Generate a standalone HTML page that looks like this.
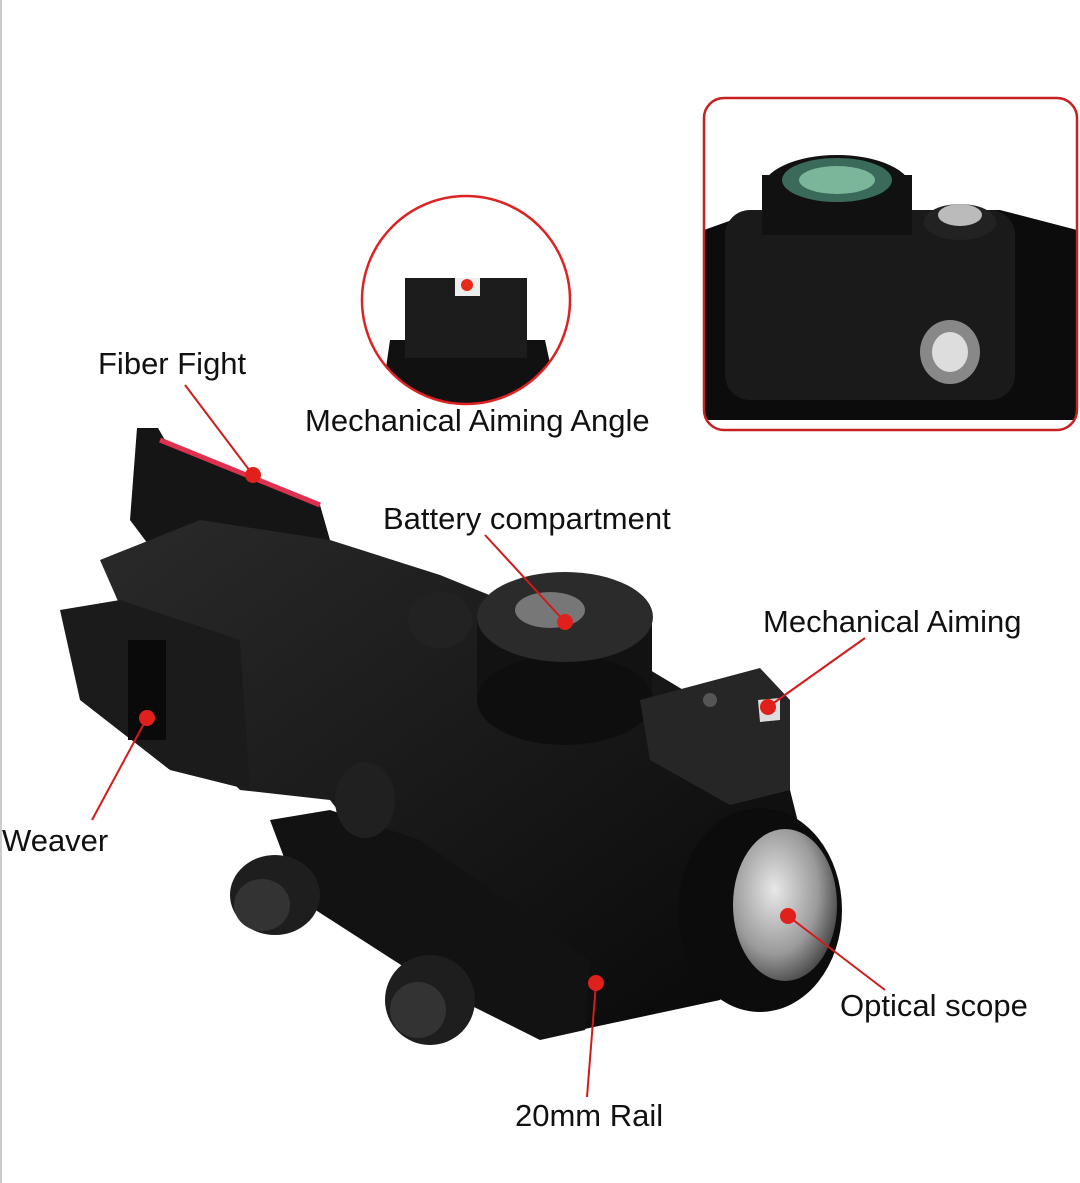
<!DOCTYPE html>
<html><head><meta charset="utf-8"><style>
html,body{margin:0;padding:0;background:#fff;}
body{width:1080px;height:1183px;overflow:hidden;position:relative;font-family:"Liberation Sans",sans-serif;}
.l{position:absolute;font-size:31px;color:#111;white-space:nowrap;line-height:1;}
svg{position:absolute;left:0;top:0;}
</style></head><body>
<svg width="1080" height="1183" viewBox="0 0 1080 1183">
<defs>
<radialGradient id="lens" cx="0.4" cy="0.4" r="0.7"><stop offset="0" stop-color="#e8e8e8"/><stop offset="0.6" stop-color="#9a9a9a"/><stop offset="1" stop-color="#333"/></radialGradient>
<linearGradient id="body" x1="0" y1="0" x2="1" y2="1"><stop offset="0" stop-color="#2a2a2a"/><stop offset="1" stop-color="#080808"/></linearGradient>
<clipPath id="cc"><circle cx="466" cy="300" r="104"/></clipPath>
<clipPath id="rc"><rect x="704" y="98" width="373" height="332" rx="20"/></clipPath>
</defs>
<line x1="1" y1="0" x2="1" y2="1183" stroke="#ccc" stroke-width="2"/>
<g clip-path="url(#cc)">
<rect x="360" y="195" width="212" height="212" fill="#fff"/>
<polygon points="390,340 545,340 560,410 380,410" fill="#111"/>
<rect x="405" y="278" width="122" height="80" fill="#1c1c1c"/>
<rect x="455" y="278" width="25" height="18" fill="#eee"/>
<circle cx="467" cy="285" r="6" fill="#e52a1a"/>
</g>
<circle cx="466" cy="300" r="104" fill="none" stroke="#d22" stroke-width="2.5"/>
<g clip-path="url(#rc)">
<rect x="704" y="98" width="373" height="332" fill="#fff"/>
<polygon points="704,230 760,210 1000,210 1077,230 1077,420 704,420" fill="#0c0c0c"/>
<rect x="725" y="210" width="290" height="190" rx="25" fill="#1a1a1a"/>
<ellipse cx="837" cy="190" rx="75" ry="35" fill="#111"/>
<rect x="762" y="175" width="150" height="60" fill="#111"/>
<ellipse cx="837" cy="180" rx="55" ry="22" fill="#3a6a5a"/>
<ellipse cx="837" cy="180" rx="38" ry="14" fill="#7bb59a"/>
<ellipse cx="960" cy="222" rx="36" ry="18" fill="#222"/>
<ellipse cx="960" cy="215" rx="22" ry="11" fill="#bbb"/>
<ellipse cx="950" cy="352" rx="30" ry="32" fill="#888"/>
<ellipse cx="950" cy="352" rx="18" ry="20" fill="#ddd"/>
</g>
<rect x="704" y="98" width="373" height="332" rx="20" fill="none" stroke="#c82020" stroke-width="2.5"/>
<polygon points="137,428 158,428 165,440 300,495 320,505 330,540 250,600 160,560 130,520" fill="#151515"/>
<line x1="160" y1="440" x2="320" y2="505" stroke="#e03050" stroke-width="5"/>
<polygon points="100,560 200,520 330,540 440,575 600,640 700,700 790,790 800,830 720,1000 580,1030 430,930 330,800 240,790 170,720" fill="url(#body)"/>
<polygon points="60,610 120,600 240,640 250,790 170,770 80,700" fill="#1b1b1b"/>
<rect x="128" y="640" width="38" height="100" fill="#0a0a0a"/>
<ellipse cx="440" cy="620" rx="32" ry="28" fill="#222"/>
<rect x="477" y="615" width="175" height="85" fill="#121212"/>
<ellipse cx="565" cy="700" rx="88" ry="45" fill="#0e0e0e"/>
<ellipse cx="565" cy="617" rx="88" ry="45" fill="#2b2b2b"/>
<ellipse cx="550" cy="610" rx="35" ry="18" fill="#777"/>
<polygon points="640,700 760,668 790,700 790,790 730,805 650,760" fill="#262626"/>
<polygon points="758,700 780,698 780,720 760,722" fill="#ddd"/>
<circle cx="710" cy="700" r="7" fill="#555"/>
<ellipse cx="760" cy="910" rx="82" ry="102" fill="#0c0c0c"/>
<ellipse cx="785" cy="905" rx="52" ry="76" fill="url(#lens)"/>
<polygon points="270,820 330,810 420,840 590,960 585,1030 540,1040 440,990 300,900" fill="#121212"/>
<ellipse cx="275" cy="895" rx="45" ry="40" fill="#1e1e1e"/>
<ellipse cx="262" cy="905" rx="28" ry="26" fill="#333"/>
<ellipse cx="430" cy="1000" rx="45" ry="45" fill="#1e1e1e"/>
<ellipse cx="418" cy="1010" rx="28" ry="28" fill="#333"/>
<ellipse cx="365" cy="800" rx="30" ry="38" fill="#202020"/>
<g stroke="#d21b1b" stroke-width="2" fill="#e0201a">
<line x1="185" y1="385" x2="253" y2="475"/><circle cx="253" cy="475" r="8" stroke="none"/>
<line x1="485" y1="535" x2="565" y2="622"/><circle cx="565" cy="622" r="8" stroke="none"/>
<line x1="865" y1="638" x2="768" y2="707"/><circle cx="768" cy="707" r="8" stroke="none"/>
<line x1="92" y1="820" x2="147" y2="718"/><circle cx="147" cy="718" r="8" stroke="none"/>
<line x1="885" y1="990" x2="788" y2="916"/><circle cx="788" cy="916" r="8" stroke="none"/>
<line x1="587" y1="1097" x2="596" y2="983"/><circle cx="596" cy="983" r="8" stroke="none"/>
</g>
</svg>
<div class="l" style="left:98px;top:348px">Fiber Fight</div>
<div class="l" style="left:305px;top:405px">Mechanical Aiming Angle</div>
<div class="l" style="left:383px;top:503px">Battery compartment</div>
<div class="l" style="left:763px;top:606px">Mechanical Aiming</div>
<div class="l" style="left:2px;top:825px">Weaver</div>
<div class="l" style="left:840px;top:990px">Optical scope</div>
<div class="l" style="left:515px;top:1100px">20mm Rail</div>
</body></html>
